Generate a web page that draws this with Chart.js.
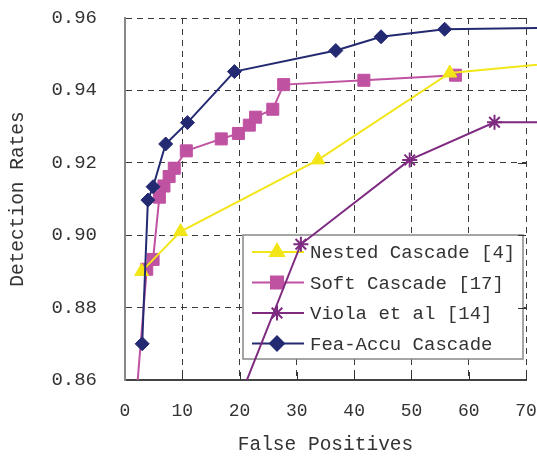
<!DOCTYPE html>
<html>
<head>
<meta charset="utf-8">
<script src="https://cdn.jsdelivr.net/npm/chart.js@4.4.1/dist/chart.umd.min.js"></script>
<style>
  html, body { margin: 0; padding: 0; background: #fff; }
  #wrap { width: 537px; height: 458px; }
</style>
</head>
<body>
<div id="wrap"><canvas id="rocChart" width="537" height="458"></canvas></div>
<script>
// series names, in legend order
const seriesNames = ['Nested Cascade [4]', 'Soft Cascade [17]', 'Viola et al [14]', 'Fea-Accu Cascade'];

// false positives (x) and detection rates (y)
const nestedFP = [2.9, 9.7, 33.7, 56.7, 80];
const nestedDR = [0.890, 0.901, 0.9208, 0.9448, 0.9483];

const softFP = [1.7, 3.8, 4.9, 6.0, 6.8, 7.7, 8.6, 10.7, 16.8, 19.8, 21.7, 22.8, 25.8, 27.7, 41.7, 57.7];
const softDR = [0.850, 0.8906, 0.8933, 0.9105, 0.9136, 0.9162, 0.9185, 0.9233, 0.9266, 0.9281, 0.9304, 0.9326, 0.9348, 0.9416, 0.9428, 0.9442];

const violaFP = [15, 30.7, 49.7, 64.5, 80];
const violaDR = [0.835, 0.8975, 0.9208, 0.9312, 0.9312];

const feaFP = [3.0, 4.0, 4.9, 7.1, 10.9, 19.1, 36.8, 44.7, 55.8, 80];
const feaDR = [0.870, 0.9097, 0.9134, 0.9252, 0.9311, 0.9452, 0.9510, 0.9548, 0.9569, 0.9574];

const xTicks = [0, 10, 20, 30, 40, 50, 60, 70];
const yTicks = [0.86, 0.88, 0.90, 0.92, 0.94, 0.96];

const FONT = "'Liberation Mono', 'DejaVu Sans Mono', monospace";
const TEXT = '#333';

const toPoints = (xs, ys) => xs.map((x, i) => ({ x: x, y: ys[i] }));

const styles = [
  { color: '#f2e619', pointStyle: 'triangle', radius: 8, order: 1 },
  { color: '#c052a2', pointStyle: 'rect', radius: 8.5, order: 2 },
  { color: '#7e2a80', pointStyle: 'star', radius: 7.5, order: 3 },
  { color: '#242a72', pointStyle: 'rectRot', radius: 7, order: 0 }
];
const seriesData = [
  toPoints(nestedFP, nestedDR),
  toPoints(softFP, softDR),
  toPoints(violaFP, violaDR),
  toPoints(feaFP, feaDR)
];

const datasets = seriesNames.map((name, i) => ({
  label: name,
  data: seriesData[i],
  order: styles[i].order,
  // lines run on past the 70 frame to the edge of the picture, but stop at the bottom axis
  clip: { left: 0, top: 10, right: false, bottom: 0 },
  borderColor: styles[i].color,
  backgroundColor: styles[i].color,
  borderWidth: 2,
  pointStyle: styles[i].pointStyle,
  pointRadius: styles[i].radius,
  pointBorderWidth: styles[i].pointStyle === 'star' ? 2 : 1,
  pointBackgroundColor: styles[i].color,
  pointBorderColor: styles[i].color,
  tension: 0,
  fill: false
}));

// legend box inside the plot, drawn under the lines
const boxLegend = {
  id: 'boxLegend',
  beforeDatasetsDraw(chart) {
    const ctx = chart.ctx;
    const area = chart.chartArea;
    const left = area.left + 118, top = area.top + 217;
    const w = 280, h = 124;
    ctx.save();
    ctx.fillStyle = '#fff';
    ctx.fillRect(left, top, w, h);
    ctx.strokeStyle = '#888';
    ctx.lineWidth = 1.5;
    ctx.strokeRect(left, top, w, h);
    ctx.font = '19px ' + FONT;
    ctx.textBaseline = 'middle';
    seriesNames.forEach((name, i) => {
      const y = top + 17 + i * 30.5;
      const st = styles[i];
      ctx.strokeStyle = st.color;
      ctx.fillStyle = st.color;
      ctx.lineWidth = 2;
      ctx.beginPath();
      ctx.moveTo(left + 9, y);
      ctx.lineTo(left + 61, y);
      ctx.stroke();
      Chart.helpers.drawPoint(ctx, {
        pointStyle: st.pointStyle, radius: st.radius, rotation: 0,
        borderWidth: st.pointStyle === 'star' ? 2 : 1
      }, left + 34, y);
      ctx.fillStyle = TEXT;
      ctx.fillText(name, left + 67, y + 1);
    });
    ctx.restore();
  },
  afterDraw(chart) {
    // small inward tick marks on the bottom and right edges
    const ctx = chart.ctx;
    const xs = chart.scales.x, ys = chart.scales.y;
    const area = chart.chartArea;
    ctx.save();
    ctx.strokeStyle = '#333';
    ctx.lineWidth = 1;
    xTicks.slice(1).forEach(v => {
      const px = Math.round(xs.getPixelForValue(v)) + 0.5;
      ctx.beginPath();
      ctx.moveTo(px, area.bottom);
      ctx.lineTo(px, area.bottom - 8);
      ctx.stroke();
    });
    yTicks.slice(1).forEach(v => {
      const py = Math.round(ys.getPixelForValue(v)) + 0.5;
      ctx.beginPath();
      ctx.moveTo(area.right, py);
      ctx.lineTo(area.right - 8, py);
      ctx.stroke();
    });
    ctx.restore();
  }
};

new Chart(document.getElementById('rocChart'), {
  type: 'line',
  data: { datasets: datasets },
  plugins: [boxLegend],
  options: {
    responsive: false,
    animation: false,
    events: [],
    layout: { autoPadding: false, padding: { top: 18, right: 11, left: 0, bottom: 0 } },
    plugins: { legend: { display: false }, tooltip: { enabled: false } },
    scales: {
      x: {
        type: 'linear',
        min: 0,
        max: 70,
        afterBuildTicks: scale => { scale.ticks = xTicks.map(v => ({ value: v })); },
        afterFit: scale => {
          scale.height = 78;
          scale.paddingLeft = 0;
          scale.paddingRight = 0;
        },
        ticks: {
          padding: 20,
          maxRotation: 0,
          color: TEXT,
          font: { family: FONT, size: 18 }
        },
        grid: {
          drawTicks: false,
          lineWidth: 1,
          color: c => (c.tick && c.tick.value === 0) ? 'rgba(0,0,0,0)' : '#3a3a3a'
        },
        border: { display: true, color: '#444', width: 2, dash: [6, 5] },
        title: {
          display: true,
          text: 'False Positives',
          color: TEXT,
          font: { family: FONT, size: 19.5, lineHeight: 1.2 },
          padding: { top: 0, bottom: 1 }
        }
      },
      y: {
        type: 'linear',
        min: 0.86,
        max: 0.96,
        afterBuildTicks: scale => { scale.ticks = yTicks.map(v => ({ value: v })); },
        afterFit: scale => {
          scale.width = 125;
          scale.paddingTop = 0;
          scale.paddingBottom = 0;
        },
        ticks: {
          padding: 28,
          color: TEXT,
          font: { family: FONT, size: 19 },
          callback: v => Number(v).toFixed(2)
        },
        grid: {
          drawTicks: false,
          lineWidth: 1,
          color: c => (c.tick && Math.abs(c.tick.value - 0.86) < 1e-6) ? 'rgba(0,0,0,0)' : '#3a3a3a'
        },
        border: { display: true, color: '#888', width: 2, dash: [6, 5] },
        title: {
          display: true,
          text: 'Detection Rates',
          color: TEXT,
          font: { family: FONT, size: 19.5, lineHeight: 1.2 },
          padding: { top: 6, bottom: 0 }
        }
      }
    }
  }
});
</script>
</body>
</html>
